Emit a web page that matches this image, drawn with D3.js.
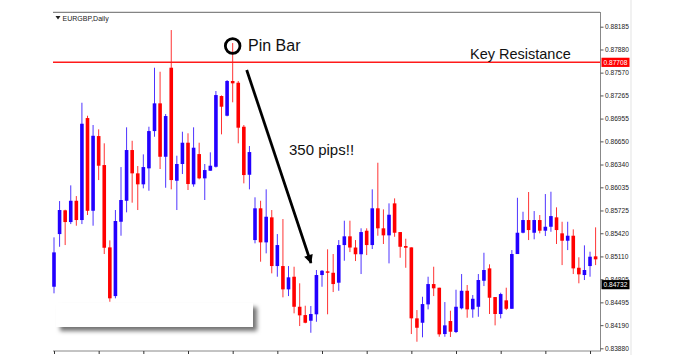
<!DOCTYPE html>
<html><head><meta charset="utf-8">
<script src="https://cdn.jsdelivr.net/npm/d3@7"></script>
<style>
html,body{margin:0;padding:0;background:#fff;}
svg{display:block;font-family:"Liberation Sans",Arial,sans-serif;}
</style></head>
<body><svg id="chart" width="698" height="355"></svg>
<script>
const symbolLabel = "EURGBP,Daily";
const opens = [
0.84704,0.85409,0.85727,0.85570,0.85855,0.85597,0.86962,0.85721,0.86721,0.86333,
0.85231,0.84579,0.85574,0.85855,0.86534,0.86222,0.86075,0.86289,0.86788,0.87159,
0.86444,0.87636,0.86123,0.86347,0.86632,0.86075,0.86480,0.86155,0.86257,0.86310,
0.87257,0.86993,0.87458,0.87435,0.86846,0.86203,0.85329,0.85754,0.85298,0.85633,
0.84981,0.84981,0.84669,0.84838,0.84436,0.84325,0.84249,0.84335,0.84861,0.84910,
0.84891,0.84758,0.85262,0.85379,0.85229,0.85139,0.85454,0.85262,0.85754,0.85486,
0.85392,0.85820,0.85436,0.85249,0.85231,0.84281,0.84222,0.84468,0.84740,0.84691,
0.84071,0.84245,0.84098,0.84415,0.84650,0.84401,0.84436,0.84784,0.84950,0.84566,
0.84339,0.84522,0.84409,0.85142,0.85427,0.85597,0.85427,0.85597,0.85454,0.85507,
0.85633,0.85419,0.85320,0.85387,0.84958,0.84861,0.84981,0.85111];
const highs = [
0.85365,0.85851,0.85735,0.86061,0.85918,0.87167,0.86993,0.86869,0.86811,0.86624,
0.85325,0.85731,0.86306,0.86838,0.86658,0.86320,0.86476,0.86846,0.87636,0.87582,
0.87016,0.88140,0.86458,0.86779,0.86758,0.86838,0.86632,0.86347,0.86503,0.87324,
0.87265,0.87471,0.87966,0.87458,0.86869,0.86588,0.85901,0.85855,0.86008,0.85731,
0.85409,0.85610,0.84981,0.84972,0.84750,0.84450,0.84446,0.84928,0.84928,0.85205,
0.85142,0.85329,0.85588,0.85588,0.85329,0.85486,0.85486,0.86008,0.86364,0.85740,
0.85820,0.85887,0.85436,0.85347,0.85231,0.84392,0.84570,0.84838,0.84972,0.84691,
0.84499,0.84383,0.84664,0.84874,0.84727,0.84593,0.84874,0.85159,0.85004,0.84566,
0.84624,0.84691,0.85195,0.85895,0.85708,0.85972,0.85717,0.85664,0.85945,0.85976,
0.85767,0.85574,0.85574,0.85472,0.85098,0.85258,0.85173,0.85499];
const lows = [
0.84616,0.85239,0.85262,0.85543,0.85521,0.85543,0.85664,0.85521,0.86132,0.85142,
0.84503,0.84549,0.85387,0.85700,0.85829,0.85731,0.86021,0.85989,0.86712,0.86280,
0.86029,0.86008,0.85731,0.86213,0.85999,0.86043,0.86142,0.85865,0.86257,0.86300,
0.86744,0.86985,0.87173,0.86624,0.86088,0.86008,0.85285,0.85039,0.85151,0.84883,
0.84838,0.84562,0.84579,0.84348,0.84178,0.84215,0.84088,0.84235,0.84704,0.84335,
0.84633,0.84650,0.85052,0.85168,0.85048,0.84874,0.85128,0.85209,0.85387,0.85276,
0.85017,0.85373,0.85092,0.84958,0.84071,0.83968,0.84027,0.84401,0.84579,0.84035,
0.84035,0.84031,0.84084,0.84401,0.84289,0.84289,0.84302,0.84713,0.84339,0.84187,
0.84281,0.84392,0.84409,0.85142,0.85419,0.85329,0.85339,0.85419,0.85383,0.85440,
0.85276,0.84994,0.85195,0.84874,0.84750,0.84794,0.84838,0.84994];
const closes = [
0.85164,0.85731,0.85570,0.85855,0.85597,0.86886,0.85721,0.86725,0.86324,0.85226,
0.84549,0.85584,0.85865,0.86534,0.86222,0.86075,0.86306,0.86788,0.87159,0.86444,
0.86989,0.86132,0.86347,0.86632,0.86079,0.86565,0.86155,0.86266,0.86324,0.87270,
0.87114,0.87458,0.87427,0.86833,0.86199,0.86507,0.85754,0.85298,0.85641,0.84981,
0.85262,0.84669,0.84830,0.84436,0.84321,0.84222,0.84339,0.84861,0.84918,0.84891,
0.84740,0.85262,0.85379,0.85229,0.85139,0.85436,0.85262,0.85754,0.85486,0.85392,
0.85668,0.85427,0.85239,0.85226,0.84281,0.84155,0.84472,0.84740,0.84683,0.84067,
0.84187,0.84102,0.84436,0.84650,0.84401,0.84543,0.84794,0.84928,0.84557,0.84339,
0.84606,0.84409,0.85142,0.85427,0.85597,0.85463,0.85597,0.85454,0.85507,0.85650,
0.85463,0.85320,0.85387,0.84950,0.84870,0.84928,0.85106,0.85071];
const yTickValues = [0.88185,0.87880,0.87570,0.87265,0.86955,0.86650,0.86340,0.86035,
  0.85725,0.85420,0.85110,0.84805,0.84495,0.84190,0.83880];
const resistanceLevel = 0.87708;
const lastPrice = 0.84732;
const pinBarIndex = 32;
const xTickStep = 8;

const svg = d3.select("#chart");
const x = d3.scaleLinear().domain([0, opens.length - 1]).range([54, 595.6]);
const y = d3.scaleLinear().domain([0.83880, 0.88185]).range([348.3, 26.7]);
const BLUE = "#2200ff", RED = "#ff0000";
const data = opens.map((o, i) => ({i, o, h: highs[i], l: lows[i], c: closes[i]}));

const defs = svg.append("defs");
const f = defs.append("filter").attr("id", "sh").attr("x", "-10%").attr("y", "-20%").attr("width", "130%").attr("height", "160%");
f.append("feDropShadow").attr("dx", 4).attr("dy", 4).attr("stdDeviation", 2).attr("flood-color", "#000").attr("flood-opacity", 0.55);
defs.append("marker").attr("id", "ah").attr("viewBox", "0 0 10 10").attr("refX", 9).attr("refY", 5)
  .attr("markerWidth", 10).attr("markerHeight", 9).attr("markerUnits", "userSpaceOnUse").attr("orient", "auto")
  .append("path").attr("d", "M0,0 L10,5 L0,10 z").attr("fill", "#000");

// faint stripe at right
svg.append("line").attr("x1", 631).attr("x2", 631).attr("y1", 0).attr("y2", 355).attr("stroke", "#f1f1f1").attr("stroke-width", 2);

// frame
svg.append("line").attr("x1", 53).attr("x2", 600).attr("y1", 12.3).attr("y2", 12.3).attr("stroke", "#666").attr("stroke-width", 1);
svg.append("line").attr("x1", 600.5).attr("x2", 600.5).attr("y1", 12).attr("y2", 351).attr("stroke", "#888").attr("stroke-width", 1);

// candles
const g = svg.append("g");
g.selectAll("line.wick").data(data).join("line").attr("class", "wick")
  .attr("x1", d => x(d.i)).attr("x2", d => x(d.i))
  .attr("y1", d => y(d.h)).attr("y2", d => y(d.l))
  .attr("stroke", d => d.c >= d.o ? BLUE : RED).attr("stroke-width", 1).attr("stroke-opacity", 0.8);
g.selectAll("rect.body").data(data).join("rect").attr("class", "body")
  .attr("x", d => x(d.i) - 1.8).attr("width", 3.6)
  .attr("y", d => y(Math.max(d.o, d.c)))
  .attr("height", d => Math.max(1.2, Math.abs(y(d.o) - y(d.c))))
  .attr("fill", d => d.c >= d.o ? BLUE : RED);

// resistance line
svg.append("line").attr("x1", 53).attr("x2", 600).attr("y1", y(resistanceLevel)).attr("y2", y(resistanceLevel))
  .attr("stroke", "#ff1a1a").attr("stroke-width", 1.5);

// white box with shadow
svg.append("rect").attr("x", 56).attr("y", 303).attr("width", 197).attr("height", 24)
  .attr("fill", "#fff").attr("filter", "url(#sh)");

// top label
svg.append("path").attr("d", "M55.5,16 L60.5,16 L58,19.5 z").attr("fill", "#222");
svg.append("text").attr("x", 62.5).attr("y", 20.5).attr("font-size", 7).attr("fill", "#222").text(symbolLabel);

// right axis
const ya = svg.append("g").attr("transform", "translate(600.5,0)")
  .call(d3.axisRight(y).tickValues(yTickValues).tickSize(3).tickPadding(1.5).tickFormat(d3.format(".5f")));
ya.select(".domain").remove();
ya.selectAll("line").attr("stroke", "#555");
ya.selectAll("text").attr("font-size", 6.6).attr("fill", "#222").attr("font-family", "Liberation Sans, Arial, sans-serif");

// bottom axis
svg.append("line").attr("x1", 53).attr("x2", 601).attr("y1", 351).attr("y2", 351).attr("stroke", "#888");
const xa = svg.append("g").attr("transform", "translate(0,351)")
  .call(d3.axisBottom(x).tickValues(d3.range(0, opens.length, xTickStep)).tickSize(3).tickFormat(""));
xa.select(".domain").remove();
xa.selectAll("line").attr("stroke", "#333");

// price boxes
function priceBox(v, fill) {
  const yy = y(v);
  svg.append("rect").attr("x", 601.5).attr("y", yy - 4.6).attr("width", 28).attr("height", 9.2).attr("fill", fill);
  svg.append("text").attr("x", 603.5).attr("y", yy + 2.5).attr("font-size", 6.6).attr("fill", "#fff").text(d3.format(".5f")(v));
}
priceBox(resistanceLevel, "#ff0000");
priceBox(lastPrice, "#000");

// annotations
svg.append("circle").attr("cx", x(pinBarIndex)).attr("cy", 46).attr("r", 7.3)
  .attr("fill", "none").attr("stroke", "#000").attr("stroke-width", 2.8);
svg.append("text").attr("x", 248).attr("y", 51).attr("font-size", 16).attr("fill", "#111").text("Pin Bar");
svg.append("text").attr("x", 470).attr("y", 58.5).attr("font-size", 14.5).attr("fill", "#111").text("Key Resistance");
svg.append("text").attr("x", 289).attr("y", 155).attr("font-size", 15).attr("fill", "#111").text("350 pips!!");
svg.append("line").attr("x1", 246.7).attr("y1", 70).attr("x2", 311).attr("y2", 263)
  .attr("stroke", "#000").attr("stroke-width", 2.8).attr("marker-end", "url(#ah)");
</script>
</body></html>
